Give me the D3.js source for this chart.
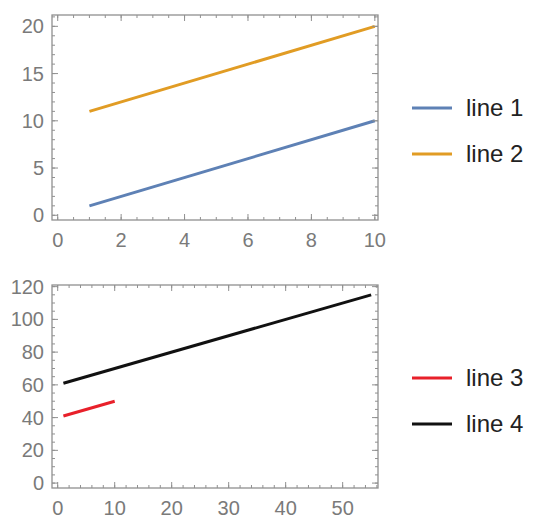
<!DOCTYPE html>
<html>
<head>
<meta charset="utf-8">
<script src="https://cdn.jsdelivr.net/npm/d3@7"></script>
<style>
  body { margin: 0; background: #fff; }
  text { font-family: "Liberation Sans", Arial, sans-serif; }
</style>
</head>
<body>
<script>
// data
var line1 = [[1, 1], [10, 10]];
var line2 = [[1, 11], [10, 20]];
var line3 = [[1, 41], [10, 50]];
var line4 = [[1, 61], [55, 115]];

var topXTicks = [0, 2, 4, 6, 8, 10];
var topYTicks = [0, 5, 10, 15, 20];
var botXTicks = [0, 10, 20, 30, 40, 50];
var botYTicks = [0, 20, 40, 60, 80, 100, 120];

var topLegend = ["line 1", "line 2"];
var botLegend = ["line 3", "line 4"];

var svg = d3.select("body").append("svg")
  .attr("width", 540)
  .attr("height", 527);

var frameColor = "#909090";
var labelColor = "#7a7a7a";

// draws one framed panel, Mathematica style
function panel(opts) {
  var x = d3.scaleLinear().domain(opts.xDomain).range([opts.left, opts.right]);
  var y = d3.scaleLinear().domain(opts.yDomain).range([opts.bottom, opts.top]);
  var g = svg.append("g");

  // lines
  opts.series.forEach(function (s) {
    g.append("path")
      .datum(s.data)
      .attr("fill", "none")
      .attr("stroke", s.color)
      .attr("stroke-width", 3)
      .attr("d", d3.line().x(d => x(d[0])).y(d => y(d[1])));
  });

  // minor ticks
  var xMinor = d3.range(opts.xTicks[0], opts.xDomain[1], opts.xMinor);
  var yMinor = d3.range(opts.yTicks[0], opts.yDomain[1], opts.yMinor);

  g.selectAll(".xm").data(xMinor).enter().append("line")
    .attr("x1", d => x(d)).attr("x2", d => x(d))
    .attr("y1", opts.bottom).attr("y2", opts.bottom - 3)
    .attr("stroke", frameColor);
  g.selectAll(".xmt").data(xMinor).enter().append("line")
    .attr("x1", d => x(d)).attr("x2", d => x(d))
    .attr("y1", opts.top).attr("y2", opts.top + 3)
    .attr("stroke", frameColor);
  g.selectAll(".ym").data(yMinor).enter().append("line")
    .attr("y1", d => y(d)).attr("y2", d => y(d))
    .attr("x1", opts.left).attr("x2", opts.left + 3)
    .attr("stroke", frameColor);
  g.selectAll(".ymr").data(yMinor).enter().append("line")
    .attr("y1", d => y(d)).attr("y2", d => y(d))
    .attr("x1", opts.right).attr("x2", opts.right - 3)
    .attr("stroke", frameColor);

  // major ticks
  g.selectAll(".xM").data(opts.xTicks).enter().append("line")
    .attr("x1", d => x(d)).attr("x2", d => x(d))
    .attr("y1", opts.bottom).attr("y2", opts.bottom - 6)
    .attr("stroke", frameColor);
  g.selectAll(".xMt").data(opts.xTicks).enter().append("line")
    .attr("x1", d => x(d)).attr("x2", d => x(d))
    .attr("y1", opts.top).attr("y2", opts.top + 6)
    .attr("stroke", frameColor);
  g.selectAll(".yM").data(opts.yTicks).enter().append("line")
    .attr("y1", d => y(d)).attr("y2", d => y(d))
    .attr("x1", opts.left).attr("x2", opts.left + 6)
    .attr("stroke", frameColor);
  g.selectAll(".yMr").data(opts.yTicks).enter().append("line")
    .attr("y1", d => y(d)).attr("y2", d => y(d))
    .attr("x1", opts.right).attr("x2", opts.right - 6)
    .attr("stroke", frameColor);

  // frame
  g.append("rect")
    .attr("x", opts.left).attr("y", opts.top)
    .attr("width", opts.right - opts.left)
    .attr("height", opts.bottom - opts.top)
    .attr("fill", "none")
    .attr("stroke", frameColor)
    .attr("stroke-width", 1.3);

  // tick labels
  g.selectAll(".xl").data(opts.xTicks).enter().append("text")
    .attr("x", d => x(d))
    .attr("y", opts.bottom + 27)
    .attr("text-anchor", "middle")
    .attr("font-size", 20)
    .attr("fill", labelColor)
    .text(d => d);
  g.selectAll(".yl").data(opts.yTicks).enter().append("text")
    .attr("x", opts.left - 8)
    .attr("y", d => y(d))
    .attr("dy", "0.35em")
    .attr("text-anchor", "end")
    .attr("font-size", 20)
    .attr("fill", labelColor)
    .text(d => d);

  // legend
  opts.series.forEach(function (s, i) {
    var ly = opts.legendY + i * 46;
    g.append("line")
      .attr("x1", 412).attr("x2", 452)
      .attr("y1", ly).attr("y2", ly)
      .attr("stroke", s.color)
      .attr("stroke-width", 3);
    g.append("text")
      .attr("x", 466)
      .attr("y", ly)
      .attr("dy", "0.35em")
      .attr("font-size", 24)
      .attr("fill", "#222")
      .text(s.name);
  });
}

panel({
  left: 52, right: 378, top: 15, bottom: 220,
  xDomain: [-0.18, 10.1], yDomain: [-0.5, 21.2],
  xTicks: topXTicks, yTicks: topYTicks, xMinor: 0.5, yMinor: 1,
  legendY: 108,
  series: [
    { name: topLegend[0], data: line1, color: "#5E81B5" },
    { name: topLegend[1], data: line2, color: "#E19C24" }
  ]
});

panel({
  left: 52, right: 378, top: 285, bottom: 488,
  xDomain: [-1.0, 56.2], yDomain: [-3.0, 121],
  xTicks: botXTicks, yTicks: botYTicks, xMinor: 2, yMinor: 5,
  legendY: 378,
  series: [
    { name: botLegend[0], data: line3, color: "#E8202A" },
    { name: botLegend[1], data: line4, color: "#111" }
  ]
});
</script>
</body>
</html>
